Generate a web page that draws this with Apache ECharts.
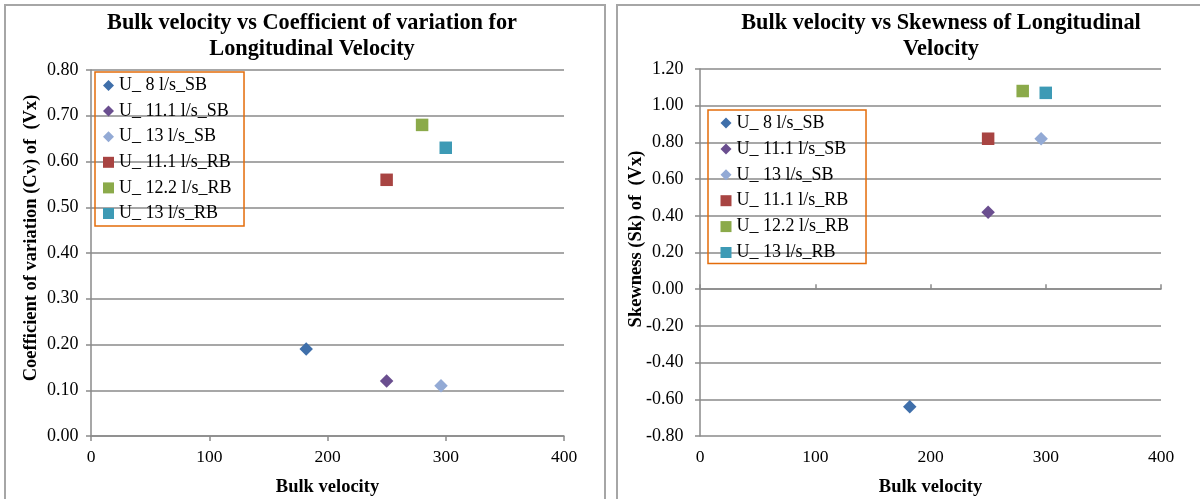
<!DOCTYPE html>
<html>
<head>
<meta charset="utf-8">
<script src="https://cdn.jsdelivr.net/npm/echarts@6.0.0/dist/echarts.min.js"></script>
<style>
  html, body { margin: 0; padding: 0; background: #fff; }
  #chart { width: 1200px; height: 499px; }
</style>
</head>
<body>
<div id="chart"></div>
<script>
// Series names (flow rate, smooth bed SB / rough bed RB)
const seriesNames = ['U_ 8 l/s_SB', 'U_ 11.1 l/s_SB', 'U_ 13 l/s_SB', 'U_ 11.1 l/s_RB', 'U_ 12.2 l/s_RB', 'U_ 13 l/s_RB'];
// Bulk velocity of each run
const bulkVelocity = [182, 250, 296, 250, 280, 300];
// Coefficient of variation of Vx
const cvValues = [0.19, 0.12, 0.11, 0.56, 0.68, 0.63];
// Skewness of Vx
const skValues = [-0.64, 0.42, 0.82, 0.82, 1.08, 1.07];
// Marker shapes and colours
const symbols = ['diamond', 'diamond', 'diamond', 'rect', 'rect', 'rect'];
const colors = ['#3F6FAA', '#6A4E8F', '#93AAD5', '#A84442', '#8BAA4A', '#3D9AB5'];

const FONT = '"Liberation Serif", "Times New Roman", serif';
const GRID_COLOR = '#8a8a8a';

function fmt(v) {
  if (Math.abs(v) < 1e-9) v = 0;
  return v.toFixed(2);
}

function makeSeries(values, xAxisIndex, yAxisIndex) {
  return seriesNames.map((name, i) => ({
    name: name,
    type: 'scatter',
    xAxisIndex: xAxisIndex,
    yAxisIndex: yAxisIndex,
    symbol: symbols[i],
    symbolSize: symbols[i] === 'rect' ? 12.5 : 13.5,
    itemStyle: { color: colors[i], opacity: 1 },
    data: [[bulkVelocity[i], values[i]]]
  }));
}

const legendBase = {
  orient: 'vertical',
  borderColor: '#E46C0A',
  borderWidth: 1.5,
  itemWidth: 11,
  itemHeight: 11,
  itemGap: 7.6,
  selectedMode: false,
  textStyle: { fontFamily: FONT, fontSize: 18, color: '#000', lineHeight: 18 },
  data: seriesNames
};

const axisLineStyle = { color: GRID_COLOR, width: 1.5 };
const xLabelStyle = { fontFamily: FONT, fontSize: 17.5, color: '#000' };
const yLabelStyle = { fontFamily: FONT, fontSize: 18, color: '#000' };
const nameStyle = { fontFamily: FONT, fontSize: 18.5, fontWeight: 'bold', color: '#000' };
const nameFont = 'bold 18.5px ' + FONT;

const option = {
  animation: false,
  backgroundColor: '#fff',
  graphic: [
    // chart frames
    { type: 'rect', shape: { x: 5, y: 5, width: 600, height: 520 }, style: { fill: 'none', stroke: '#a6a6a6', lineWidth: 2 }, silent: true, z: -1 },
    { type: 'rect', shape: { x: 617, y: 5, width: 600, height: 520 }, style: { fill: 'none', stroke: '#a6a6a6', lineWidth: 2 }, silent: true, z: -1 },
    // chart titles
    { type: 'text', x: 312, y: 10, style: { text: 'Bulk velocity vs Coefficient of variation for\nLongitudinal Velocity', font: 'bold 22.3px ' + FONT, align: 'center', verticalAlign: 'top', lineHeight: 26, fill: '#000' } },
    { type: 'text', x: 941, y: 10, style: { text: 'Bulk velocity vs Skewness of Longitudinal\nVelocity', font: 'bold 22.3px ' + FONT, align: 'center', verticalAlign: 'top', lineHeight: 26, fill: '#000' } },
    // vertical axis titles
    { type: 'text', x: 31, y: 238, rotation: Math.PI / 2, style: { text: 'Coefficient of variation (Cv) of  (Vx)', font: nameFont, align: 'center', verticalAlign: 'middle', fill: '#000' } },
    { type: 'text', x: 636, y: 239, rotation: Math.PI / 2, style: { text: 'Skewness (Sk) of  (Vx)', font: nameFont, align: 'center', verticalAlign: 'middle', fill: '#000' } }
  ],
  legend: [
    Object.assign({}, legendBase, { left: 95, top: 72, padding: [4.5, 12.5, 3.5, 8] }),
    Object.assign({}, legendBase, { left: 708, top: 110, padding: [4, 17, 2, 12.5], itemGap: 7.9 })
  ],
  grid: [
    { left: 91, right: 636, top: 70, bottom: 63, outerBoundsMode: 'none' },
    { left: 700, right: 39, top: 69, bottom: 63, outerBoundsMode: 'none' }
  ],
  xAxis: [
    {
      gridIndex: 0, type: 'value', min: 0, max: 400, interval: 100,
      name: 'Bulk velocity', nameLocation: 'middle', nameGap: 42, nameTextStyle: nameStyle,
      axisLine: { lineStyle: axisLineStyle },
      axisTick: { show: true, length: 5, lineStyle: axisLineStyle },
      axisLabel: Object.assign({ margin: 12.5 }, xLabelStyle),
      splitLine: { show: false }
    },
    {
      // labels and title along the bottom of the skewness chart
      gridIndex: 1, type: 'value', min: 0, max: 400, interval: 100, position: 'bottom',
      name: 'Bulk velocity', nameLocation: 'middle', nameGap: 42, nameTextStyle: nameStyle,
      axisLine: { show: false, onZero: false },
      axisTick: { show: false },
      axisLabel: Object.assign({ margin: 12.5 }, xLabelStyle),
      splitLine: { show: false }
    },
    {
      // horizontal axis line crossing at zero skewness
      gridIndex: 1, type: 'value', min: 0, max: 400, interval: 100, position: 'bottom',
      axisLine: { show: true, onZero: true, onZeroAxisIndex: 1, lineStyle: axisLineStyle },
      axisTick: { show: true, inside: true, length: 5, lineStyle: axisLineStyle },
      axisLabel: { show: false },
      splitLine: { show: false }
    }
  ],
  yAxis: [
    {
      gridIndex: 0, type: 'value', min: 0, max: 0.8, interval: 0.1,
      axisLine: { show: true, lineStyle: axisLineStyle },
      axisTick: { show: true, length: 5, lineStyle: axisLineStyle },
      axisLabel: Object.assign({ margin: 12.5, formatter: fmt }, yLabelStyle),
      splitLine: { show: true, lineStyle: axisLineStyle }
    },
    {
      gridIndex: 1, type: 'value', min: -0.8, max: 1.2, interval: 0.2,
      axisLine: { show: true, onZero: false, lineStyle: axisLineStyle },
      axisTick: { show: true, length: 5, lineStyle: axisLineStyle },
      axisLabel: Object.assign({ margin: 16.5, formatter: fmt }, yLabelStyle),
      splitLine: { show: true, lineStyle: axisLineStyle }
    }
  ],
  series: [].concat(makeSeries(cvValues, 0, 0), makeSeries(skValues, 1, 1))
};

const chart = echarts.init(document.getElementById('chart'), null, { renderer: 'canvas' });
chart.setOption(option);
</script>
</body>
</html>
